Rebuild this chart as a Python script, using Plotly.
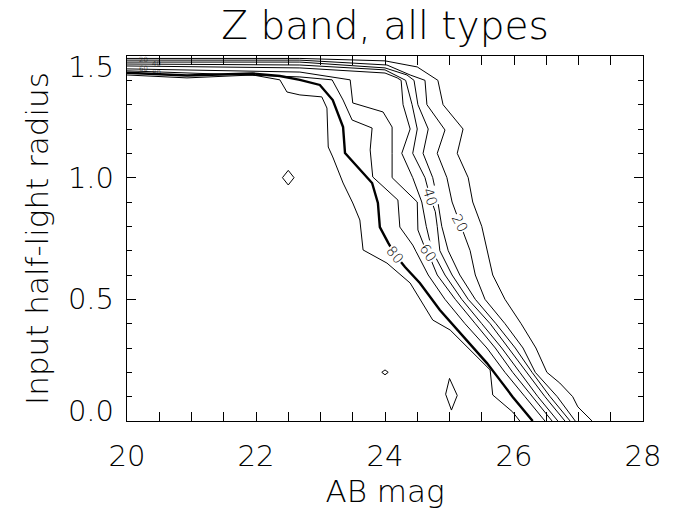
import plotly.graph_objects as go

# ---- contour levels (completeness %) ----
levels = [10, 20, 30, 40, 50, 60, 70, 80, 90]

# each contour traced as (AB mag, input half-light radius)
c10_mag = [20.00, 22.68, 24.00, 24.50, 24.82, 24.90, 25.21, 25.12, 25.29, 25.36, 25.50, 25.58, 25.67, 25.86, 26.11, 26.34, 26.51, 26.71, 26.91, 26.99, 27.21]
c10_r   = [1.490, 1.490, 1.480, 1.455, 1.400, 1.300, 1.200, 1.100, 1.000, 0.900, 0.800, 0.700, 0.600, 0.500, 0.400, 0.300, 0.200, 0.156, 0.100, 0.058, 0.000]

c20_mag = [20.00, 22.68, 24.03, 24.39, 24.62, 24.65, 24.93, 24.81, 24.96, 25.04, 25.16, 25.32, 25.40, 25.55, 25.86, 26.14, 26.33, 26.67, 26.95]
c20_r   = [1.483, 1.483, 1.463, 1.422, 1.400, 1.300, 1.196, 1.100, 1.000, 0.900, 0.814, 0.700, 0.600, 0.500, 0.400, 0.300, 0.200, 0.100, 0.000]

c30_mag = [20.00, 22.68, 24.00, 24.34, 24.45, 24.51, 24.67, 24.59, 24.74, 24.82, 24.88, 24.98, 25.16, 25.40, 25.72, 26.02, 26.28, 26.56, 26.87]
c30_r   = [1.475, 1.475, 1.451, 1.422, 1.400, 1.300, 1.200, 1.100, 1.000, 0.900, 0.800, 0.700, 0.600, 0.500, 0.400, 0.300, 0.200, 0.100, 0.000]

c40_mag = [20.00, 22.68, 24.00, 24.23, 24.32, 24.42, 24.50, 24.43, 24.62, 24.70, 24.78, 24.81, 24.85, 25.04, 25.29, 25.63, 25.91, 26.20, 26.48, 26.79]
c40_r   = [1.467, 1.463, 1.443, 1.414, 1.400, 1.300, 1.200, 1.100, 1.000, 0.920, 0.860, 0.800, 0.700, 0.600, 0.500, 0.400, 0.300, 0.200, 0.100, 0.000]

c50_mag = [20.00, 22.68, 24.00, 24.19, 24.25, 24.28, 24.39, 24.26, 24.43, 24.57, 24.64, 24.73, 24.93, 25.19, 25.50, 25.81, 26.09, 26.37, 26.68]
c50_r   = [1.459, 1.451, 1.430, 1.410, 1.400, 1.300, 1.200, 1.100, 1.000, 0.900, 0.800, 0.700, 0.600, 0.500, 0.400, 0.300, 0.200, 0.100, 0.000]

c60_mag = [20.00, 22.68, 23.46, 23.50, 23.97, 24.11, 24.11, 24.11, 24.50, 24.51, 24.62, 24.67, 24.81, 25.09, 25.40, 25.71, 25.98, 26.28, 26.59]
c60_r   = [1.447, 1.434, 1.402, 1.307, 1.270, 1.208, 1.100, 1.000, 0.900, 0.785, 0.711, 0.690, 0.600, 0.500, 0.400, 0.300, 0.200, 0.100, 0.000]

c70_mag = [20.00, 22.68, 23.18, 23.35, 23.49, 23.80, 23.77, 23.81, 24.20, 24.23, 24.43, 24.67, 24.93, 25.24, 25.58, 25.86, 26.17, 26.48]
c70_r   = [1.439, 1.414, 1.402, 1.319, 1.237, 1.204, 1.114, 1.003, 0.908, 0.797, 0.723, 0.600, 0.500, 0.400, 0.300, 0.200, 0.100, 0.000]

c80_mag = [20.00, 20.93, 21.95, 22.37, 22.68, 22.99, 23.19, 23.35, 23.38, 23.61, 23.80, 23.89, 23.92, 24.05, 24.16, 24.31, 24.54, 24.85, 25.16, 25.58, 25.78, 25.98, 26.29]
c80_r   = [1.431, 1.420, 1.428, 1.418, 1.402, 1.381, 1.319, 1.208, 1.101, 1.032, 0.978, 0.896, 0.797, 0.732, 0.682, 0.633, 0.567, 0.456, 0.362, 0.238, 0.169, 0.099, 0.000]

c90_mag = [20.00, 20.93, 21.95, 22.37, 22.48, 22.68, 23.02, 23.10, 23.12, 23.19, 23.35, 23.50, 23.61, 23.66, 24.03, 24.39, 24.74, 25.01, 25.63, 25.67, 25.98, 26.09]
c90_r   = [1.422, 1.410, 1.422, 1.402, 1.352, 1.340, 1.332, 1.286, 1.126, 1.085, 0.978, 0.896, 0.826, 0.703, 0.649, 0.567, 0.415, 0.374, 0.210, 0.107, 0.037, 0.000]

# small isolated closed contours
iso1_mag = [22.41, 22.50, 22.59, 22.50, 22.41]
iso1_r   = [1.000, 1.030, 1.000, 0.970, 1.000]
iso2_mag = [23.95, 24.00, 24.05, 24.00, 23.95]
iso2_r   = [0.200, 0.210, 0.200, 0.190, 0.200]
iso3_mag = [25.00, 25.12, 25.03, 24.94, 25.00]
iso3_r   = [0.175, 0.105, 0.045, 0.110, 0.175]

# contour label text
label_levels = [20, 40, 60, 80]

x_ticks = [20, 22, 24, 26, 28]
y_ticks = [0.0, 0.5, 1.0, 1.5]
y_tick_text = ["0.0", "0.5", "1.0", "1.5"]

contours = {
    10: (c10_mag, c10_r), 20: (c20_mag, c20_r), 30: (c30_mag, c30_r),
    40: (c40_mag, c40_r), 50: (c50_mag, c50_r), 60: (c60_mag, c60_r),
    70: (c70_mag, c70_r), 80: (c80_mag, c80_r), 90: (c90_mag, c90_r),
}

FONT = "DejaVu Sans, sans-serif"
W = 200

def f(size):
    return dict(family=FONT, size=size, color="black", weight=W)

fig = go.Figure()
for lev in levels:
    xs, ys = contours[lev]
    fig.add_trace(go.Scatter(
        x=xs, y=ys, mode="lines",
        line=dict(color="black", width=2.4 if lev == 80 else 1),
        showlegend=False, hoverinfo="skip"))

for k, (xs, ys) in enumerate([(iso1_mag, iso1_r), (iso2_mag, iso2_r), (iso3_mag, iso3_r)]):
    fig.add_trace(go.Scatter(x=xs, y=ys, mode="lines",
                             yaxis="y2" if k == 0 else "y",
                             line=dict(color="black", width=1),
                             showlegend=False, hoverinfo="skip"))

# labels placed on a vertex of their contour
label_index = {20: 10, 40: 9, 60: 11, 80: 14}
label_angle = {20: 62, 40: 72, 60: 55, 80: 50}
for lev in label_levels:
    xs, ys = contours[lev]
    i = label_index[lev]
    fig.add_annotation(x=xs[i], y=ys[i], text=str(lev), showarrow=False,
                       textangle=label_angle[lev], bgcolor="white", borderpad=0,
                       font=f(14))

# crowded labels along the top band
for lev, dx in zip(label_levels, [0.25, 0.45, 0.25, 0.45]):
    xs, ys = contours[lev]
    fig.add_annotation(x=xs[0] + dx, y=ys[0], text=str(lev), showarrow=False,
                       font=f(7))

axis_common = dict(
    showline=True, linecolor="black", linewidth=1, mirror="allticks",
    ticks="inside", ticklen=9, tickcolor="black", tickwidth=1,
    showgrid=False, zeroline=False, automargin=False,
    tickfont=f(29),
)

fig.update_xaxes(range=[20, 28], tickvals=x_ticks,
                 minor=dict(ticks="inside", dtick=0.5, ticklen=5, tickcolor="black"),
                 title=dict(text="AB mag", font=f(31), standoff=4),
                 ticklabelstandoff=9,
                 **axis_common)
fig.update_yaxes(range=[0, 1.5], tickvals=y_ticks, showticklabels=False,
                 minor=dict(ticks="inside", dtick=0.1, ticklen=5, tickcolor="black"),
                 title=dict(text="Input half-light radius", font=f(31), standoff=68),
                 **axis_common)

# IDL-style label placement: end labels pulled inside the axis range
fig.update_layout(yaxis2=dict(
    overlaying="y", side="left", range=[0, 1.5],
    tickvals=[0.041, 0.5, 1.0, 1.455], ticktext=y_tick_text,
    ticks="", showline=False, showgrid=False, zeroline=False,
    automargin=False, tickfont=f(29), ticklabelstandoff=12,
))

fig.update_layout(
    width=675, height=514,
    margin=dict(l=127, r=32, t=56, b=93),
    paper_bgcolor="white", plot_bgcolor="white",
    title=dict(text="Z band, all types", x=0.5, xref="paper", xanchor="center",
               y=0.95, yanchor="middle", font=f(39)),
)

fig.write_html("out.html", config={"displayModeBar": False},
               post_script="document.body.style.margin='0';")
